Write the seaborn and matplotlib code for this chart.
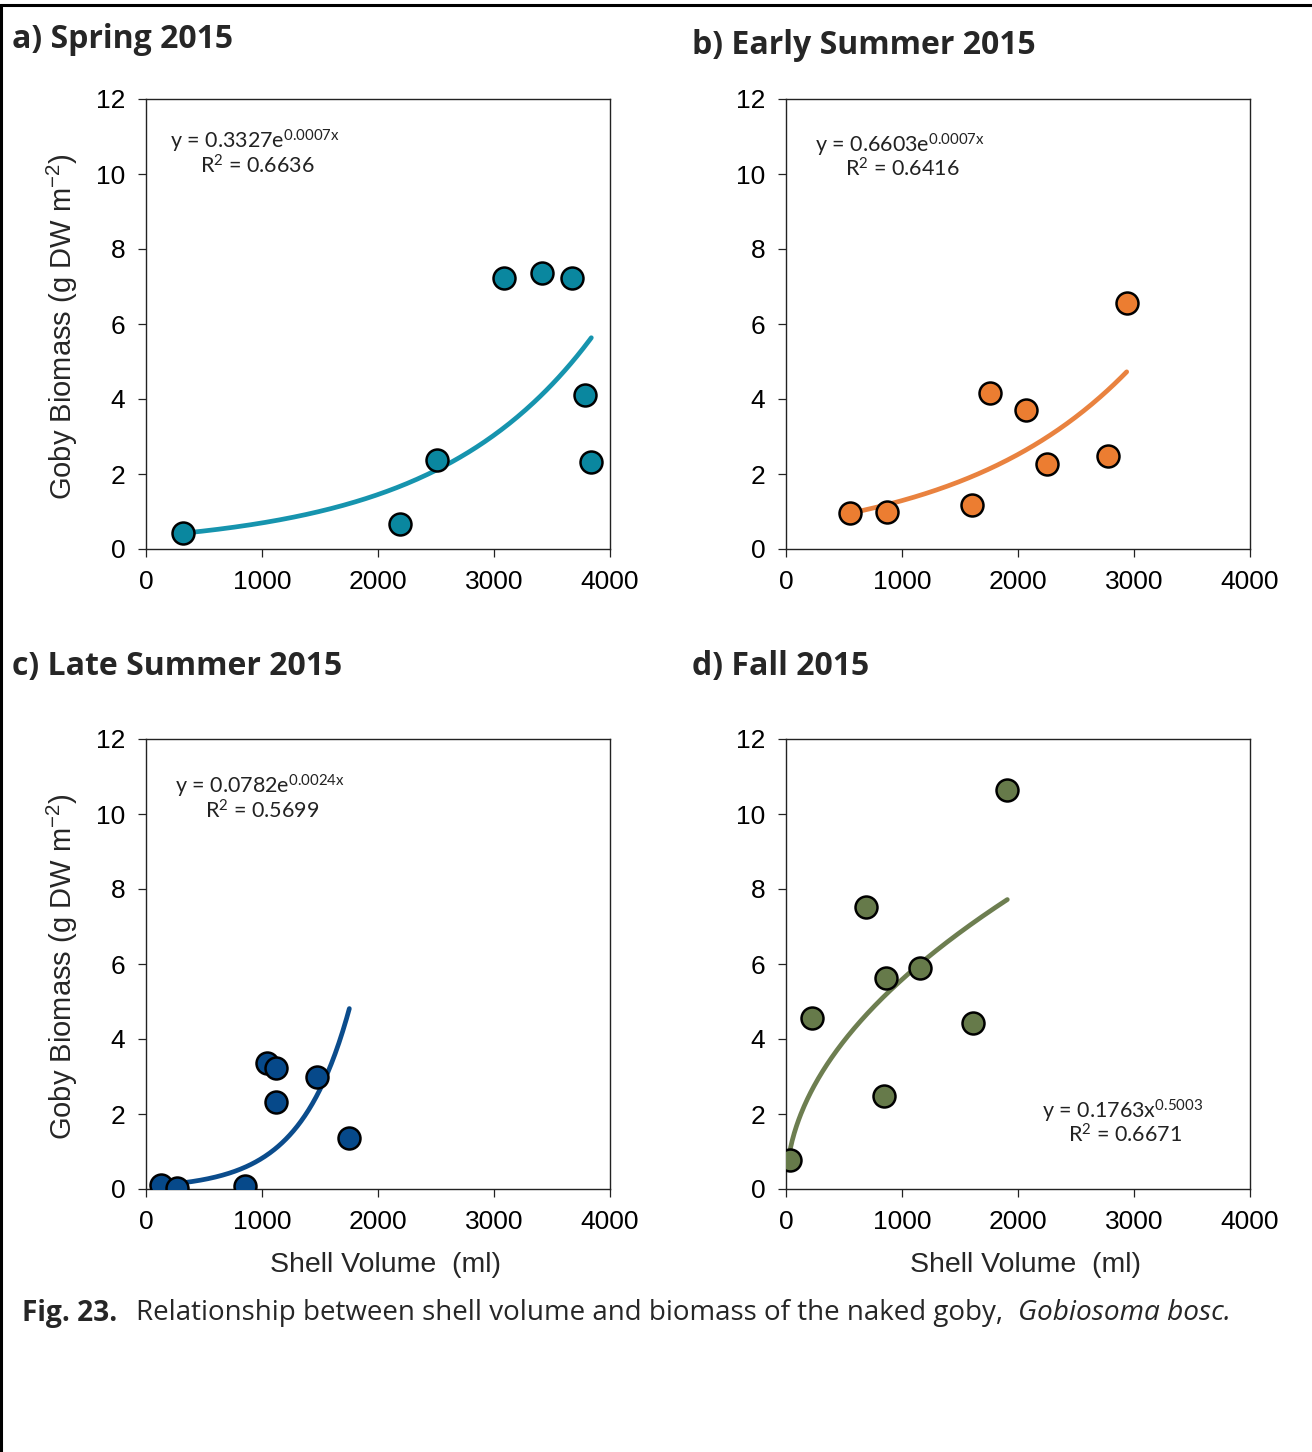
import numpy as np
import pandas as pd
import matplotlib
matplotlib.use("Agg")
import matplotlib.pyplot as plt
from matplotlib.lines import Line2D
import seaborn as sns

# ---------------- data ----------------
spring_x = [321, 2190, 2511, 3089, 3417, 3672, 3782, 3839]
spring_y = [0.42, 0.66, 2.37, 7.22, 7.35, 7.22, 4.11, 2.33]

early_x = [552, 874, 1606, 1759, 2069, 2247, 2779, 2937]
early_y = [0.95, 0.99, 1.17, 4.15, 3.71, 2.28, 2.48, 6.55]

late_x = [127, 270, 853, 1040, 1121, 1121, 1471, 1753]
late_y = [0.11, 0.02, 0.08, 3.37, 3.22, 2.33, 2.99, 1.35]

fall_x = [34, 226, 690, 862, 845, 1155, 1615, 1908]
fall_y = [0.77, 4.55, 7.53, 5.62, 2.48, 5.89, 4.42, 10.64]

# trendline coefficients (a, b) and type
trend_a = [0.3327, 0.6603, 0.0782, 0.1763]
trend_b = [0.000737, 0.00067, 0.00235, 0.5003]
trend_kind = ["exp", "exp", "exp", "power"]

titles = ["a) Spring 2015", "b) Early Summer 2015", "c) Late Summer 2015", "d) Fall 2015"]
eq_main = ["y = 0.3327e$^{0.0007x}$", "y = 0.6603e$^{0.0007x}$",
           "y = 0.0782e$^{0.0024x}$", "y = 0.1763x$^{0.5003}$"]
eq_r2 = ["R$^{2}$ = 0.6636", "R$^{2}$ = 0.6416", "R$^{2}$ = 0.5699", "R$^{2}$ = 0.6671"]

x_ticks = [0, 1000, 2000, 3000, 4000]
y_ticks = [0, 2, 4, 6, 8, 10, 12]

marker_colors = ["#0A879F", "#EC7D31", "#06498A", "#667A4A"]
line_colors = ["#1694AE", "#E9823F", "#0B4C8C", "#6D7E50"]

# ---------------- style ----------------
sns.set_theme(style="white")
plt.rcParams["font.family"] = ["Liberation Sans", "DejaVu Sans"]
plt.rcParams["mathtext.default"] = "regular"

W, H = 1312, 1452
fig = plt.figure(figsize=(W / 100, H / 100), dpi=100)
fig.patch.set_facecolor("white")

# axes boxes in pixels: left, top, right, bottom
boxes = [(146, 99, 610, 549), (786, 99, 1250, 549),
         (146, 739, 610, 1189), (786, 739, 1250, 1189)]
title_pos = [(12, 40), (692, 46), (12, 666), (692, 667)]
eq_pos = [(170, 141, 200, 166), (815, 145, 845, 169),
          (175, 786, 205, 811), (1042, 1111, 1068, 1135)]

datasets = [(spring_x, spring_y), (early_x, early_y), (late_x, late_y), (fall_x, fall_y)]

def fx(px):
    return px / W

def fy(py):
    return 1 - py / H

for i, (xs, ys) in enumerate(datasets):
    l, t, r, b = boxes[i]
    ax = fig.add_axes([fx(l), fy(b), (r - l) / W, (b - t) / H])
    df = pd.DataFrame({"x": xs, "y": ys})
    xg = np.linspace(min(xs), max(xs), 200)
    if trend_kind[i] == "exp":
        yg = trend_a[i] * np.exp(trend_b[i] * xg)
    else:
        yg = trend_a[i] * np.power(xg, trend_b[i])
    tdf = pd.DataFrame({"x": xg, "y": yg})
    sns.lineplot(data=tdf, x="x", y="y", ax=ax, color=line_colors[i], lw=3.4,
                 zorder=2, solid_capstyle="round")
    sns.scatterplot(data=df, x="x", y="y", ax=ax, s=250, color=marker_colors[i],
                    edgecolor="black", linewidth=1.8, zorder=3)
    ax.set_xlim(0, 4000)
    ax.set_ylim(0, 12)
    ax.set_xticks(x_ticks)
    ax.set_yticks(y_ticks)
    ax.tick_params(axis="both", direction="out", length=6, width=0.9, color="#222222",
                   labelsize=19, pad=9, left=True, bottom=True, labelcolor="black")
    for sp in ax.spines.values():
        sp.set_visible(True)
        sp.set_color("#222222")
        sp.set_linewidth(1.0)
    ax.set_xlabel("")
    ax.set_ylabel("")
    ax.grid(False)

    # titles
    tx, ty = title_pos[i]
    fig.text(fx(tx), fy(ty), titles[i], ha="left", va="center", fontsize=23,
             fontweight="bold", family=["Open Sans", "DejaVu Sans"])
    # equations
    ex, ey, rx, ry = eq_pos[i]
    fig.text(fx(ex), fy(ey), eq_main[i], ha="left", va="center", fontsize=15.5,
             family=["Lato", "DejaVu Sans"], color="#222222")
    fig.text(fx(rx), fy(ry), eq_r2[i], ha="left", va="center", fontsize=15.5,
             family=["Lato", "DejaVu Sans"], color="#222222")

# y labels (left column)
for yc in [327, 967]:
    fig.text(fx(62), fy(yc), "Goby Biomass (g DW m$^{-2}$)", rotation=90,
             ha="center", va="center", fontsize=21)
# x labels (bottom row)
for xc in [385, 1025]:
    fig.text(fx(xc), fy(1265), "Shell Volume  (ml)", ha="center", va="center", fontsize=20.5)

# caption: pieces placed one after another using measured widths
cap_y = fy(1313)
renderer = fig.canvas.get_renderer()
cap_font = ["Open Sans", "DejaVu Sans"]
t1 = fig.text(fx(22), cap_y, "Fig. 23.", ha="left", va="center", fontsize=18.5,
              fontweight="bold", family=cap_font)
t2 = fig.text(fx(136), cap_y, "Relationship between shell volume and biomass of the naked goby,",
              ha="left", va="center", fontsize=18.5, family=cap_font)
# scale regular text to reference width (136 -> 1008 px)
w2 = t2.get_window_extent(renderer).width
t2.set_fontsize(18.5 * 872 / w2)
t3 = fig.text(fx(1018), cap_y, "Gobiosoma bosc.", ha="left", va="center", fontsize=18.5,
              style="italic", family=cap_font)
w3 = t3.get_window_extent(renderer).width
t3.set_fontsize(18.5 * 214 / w3)
w1 = t1.get_window_extent(renderer).width
t1.set_fontsize(18.5 * 96 / w1)

# page border (top and left)
fig.add_artist(Line2D([0, 1], [fy(5), fy(5)], transform=fig.transFigure,
                      color="black", lw=2.2))
fig.add_artist(Line2D([fx(1.2), fx(1.2)], [0, fy(5)], transform=fig.transFigure,
                      color="black", lw=2.2))

fig.savefig("out.png", dpi=100)
